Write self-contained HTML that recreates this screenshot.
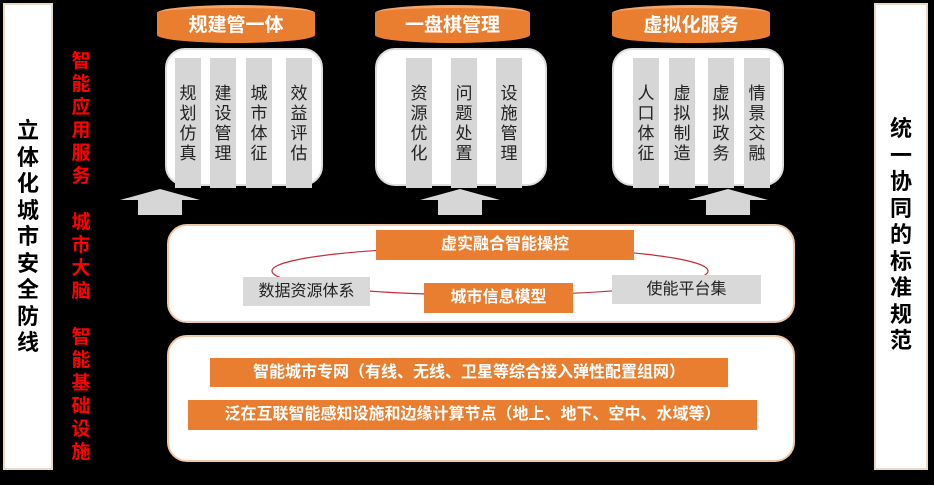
<!DOCTYPE html>
<html><head><meta charset="utf-8"><style>
*{margin:0;padding:0;box-sizing:border-box}
body{width:934px;height:485px;background:#000;position:relative;overflow:hidden;font-family:"Liberation Sans","Noto Sans CJK SC",sans-serif}
.a{position:absolute}
.side{background:#fff;border:2px solid #e8d9c8;}
.vt{position:absolute;text-align:center;font-weight:bold;line-height:1}
.cyl{position:absolute;background:#e97e30;border-radius:50%/8px;color:#fff;font-weight:bold;font-size:19px;text-align:center;line-height:36px;border-top:3px solid #f2a46a}
.wb{position:absolute;background:#fff;border-radius:20px;border:2px solid #ddd}
.col{position:absolute;background:#d6d6d6;width:26px;top:58px;height:130px;text-align:center;font-size:17px;line-height:20px;padding-top:26px;color:#222}
.ob{position:absolute;background:#e97e30;color:#fff;font-weight:bold;text-align:center}
.gb{position:absolute;background:#d9d9d9;color:#222;text-align:center;font-size:16px}
</style></head><body>
<div class="a side" style="left:3px;top:3px;width:50px;height:467px"></div>
<div class="vt" style="left:3px;top:118px;width:50px;font-size:22px;line-height:26.5px">立<br>体<br>化<br>城<br>市<br>安<br>全<br>防<br>线</div>
<div class="a side" style="left:874px;top:3px;width:54px;height:467px"></div>
<div class="vt" style="left:874px;top:116px;width:54px;font-size:22px;line-height:26.5px">统<br>一<br>协<br>同<br>的<br>标<br>准<br>规<br>范</div>
<div class="vt" style="left:67px;top:50px;width:28px;color:#f00;font-size:19px;line-height:23px">智<br>能<br>应<br>用<br>服<br>务<br><br>城<br>市<br>大<br>脑<br><br>智<br>能<br>基<br>础<br>设<br>施</div>

<div class="cyl" style="left:157px;top:5px;width:158px;height:38px">规建管一体</div>
<div class="cyl" style="left:375px;top:5px;width:155px;height:38px">一盘棋管理</div>
<div class="cyl" style="left:612px;top:5px;width:158px;height:38px">虚拟化服务</div>

<div class="wb" style="left:165px;top:48px;width:158px;height:138px"></div>
<div class="col" style="left:175px">规<br>划<br>仿<br>真</div>
<div class="col" style="left:210px">建<br>设<br>管<br>理</div>
<div class="col" style="left:246px">城<br>市<br>体<br>征</div>
<div class="col" style="left:286px">效<br>益<br>评<br>估</div>

<div class="wb" style="left:375px;top:48px;width:172px;height:138px"></div>
<div class="col" style="left:406px">资<br>源<br>优<br>化</div>
<div class="col" style="left:451px">问<br>题<br>处<br>置</div>
<div class="col" style="left:496px">设<br>施<br>管<br>理</div>

<div class="wb" style="left:612px;top:48px;width:172px;height:138px"></div>
<div class="col" style="left:633px">人<br>口<br>体<br>征</div>
<div class="col" style="left:669px">虚<br>拟<br>制<br>造</div>
<div class="col" style="left:708px">虚<br>拟<br>政<br>务</div>
<div class="col" style="left:744px">情<br>景<br>交<br>融</div>

<svg class="a" style="left:0;top:0" width="934" height="485">
<polygon points="120,200 160,189 200,200 182,200 182,215 138,215 138,200" fill="#d6d6d6"/>
<polygon points="420,200 460,189 500,200 482,200 482,215 438,215 438,200" fill="#d6d6d6"/>
<polygon points="688,200 728,189 768,200 750,200 750,215 706,215 706,200" fill="#d6d6d6"/>
</svg>

<div class="wb" style="left:167px;top:224px;width:628px;height:99px;border:2px solid #f0c8a8"></div>
<svg class="a" style="left:0;top:0" width="934" height="485"><ellipse cx="490" cy="271" rx="218" ry="24" fill="none" stroke="#c0303a" stroke-width="1.2"/></svg>
<div class="ob" style="left:376px;top:230px;width:258px;height:30px;font-size:16px;line-height:30px">虚实融合智能操控</div>
<div class="ob" style="left:424px;top:283px;width:149px;height:30px;font-size:16px;line-height:30px">城市信息模型</div>
<div class="gb" style="left:243px;top:277px;width:127px;height:29px;line-height:29px">数据资源体系</div>
<div class="gb" style="left:612px;top:275px;width:149px;height:29px;line-height:29px">使能平台集</div>

<div class="wb" style="left:167px;top:335px;width:628px;height:127px;border:2px solid #f0c8a8"></div>
<div class="ob" style="left:210px;top:358px;width:518px;height:29px;font-size:16px;line-height:29px">智能城市专网（有线、无线、卫星等综合接入弹性配置组网）</div>
<div class="ob" style="left:188px;top:400px;width:569px;height:30px;font-size:16px;line-height:30px">泛在互联智能感知设施和边缘计算节点（地上、地下、空中、水域等）</div>
</body></html>
